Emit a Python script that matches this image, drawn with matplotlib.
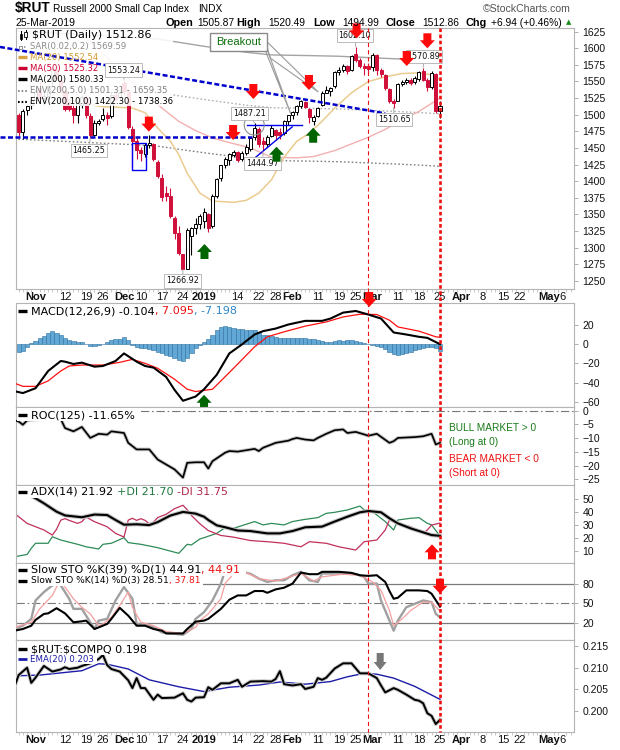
import matplotlib
matplotlib.use("Agg")
import matplotlib.pyplot as plt
from matplotlib.patches import Rectangle, Polygon, Ellipse
from matplotlib.lines import Line2D
from matplotlib.transforms import IdentityTransform

plt.rcParams['font.family'] = ['Liberation Sans', 'DejaVu Sans']
plt.rcParams['lines.scale_dashes'] = False

# ------------------------------------------------------------------ data
day_index = list(range(-4, 97))          # trading-day index, 0 = 1 Nov 2018, 96 = 25 Mar 2019
opens = [1499, 1474, 1507, 1514, 1522, 1540, 1525, 1528, 1550, 1568, 1553, 1535, 1515, 1510, 1500, 1515,
         1525, 1498, 1470, 1488, 1494, 1499, 1498, 1530, 1526, 1548, 1534, 1478, 1460, 1447, 1441, 1455,
         1456, 1429, 1405, 1382, 1378, 1345, 1322, 1290, 1268, 1317, 1330, 1336, 1340, 1350, 1333, 1378,
         1405, 1424, 1432, 1440, 1444, 1433, 1442, 1449, 1466, 1479, 1460, 1456, 1468, 1477, 1474, 1472,
         1490, 1500, 1504, 1513, 1519, 1508, 1490, 1498, 1514, 1533, 1536, 1543, 1564, 1568, 1573, 1568,
         1592, 1583, 1574, 1574, 1572, 1590, 1568, 1560, 1538, 1521, 1521, 1546, 1549, 1553, 1549, 1554,
         1566, 1552, 1541, 1562, 1505.87]
highs = [1503, 1509, 1516, 1526, 1540, 1549, 1532, 1545, 1571, 1573, 1555, 1538, 1522, 1516, 1521, 1529,
         1530, 1502, 1492, 1494, 1510, 1504, 1532, 1536, 1535, 1553.24, 1538, 1483, 1465, 1452, 1458, 1470,
         1458, 1432, 1410, 1392, 1390, 1348, 1332, 1291, 1329, 1331, 1345, 1350, 1360, 1352, 1380, 1405,
         1425, 1437, 1443, 1447, 1446, 1445, 1456, 1467, 1487.21, 1481, 1466, 1470, 1484, 1479, 1480, 1492,
         1500, 1505, 1515, 1522, 1521, 1510, 1500, 1512, 1535, 1543, 1542, 1566, 1572, 1576, 1575, 1590,
         1602.10, 1586, 1578, 1578, 1593, 1592, 1570, 1562, 1540, 1524, 1548, 1552, 1556, 1555, 1558, 1566,
         1570.89, 1555, 1566, 1563, 1520.49]
lows = [1468, 1463, 1500, 1508, 1518, 1518, 1515, 1524, 1545, 1553, 1532, 1506, 1505, 1488, 1488, 1510,
        1495, 1465.25, 1468, 1484, 1490, 1485, 1495, 1520, 1520, 1530, 1478, 1421, 1433, 1430, 1436, 1450,
        1430, 1405, 1370, 1370, 1345, 1313, 1288, 1266.92, 1267.5, 1288, 1320, 1328, 1330, 1323, 1330, 1375,
        1400, 1420, 1425, 1436, 1429, 1430, 1440, 1445, 1462, 1452, 1444.97, 1452, 1466, 1462, 1464, 1470,
        1485, 1494, 1500, 1510, 1510, 1488, 1485, 1496, 1513, 1532, 1528, 1540, 1560, 1565, 1562, 1566,
        1580, 1570, 1560, 1565, 1566, 1560, 1557, 1537, 1518, 1510.65, 1520, 1543, 1546, 1545, 1546, 1550,
        1550, 1536, 1538, 1502, 1494.99]
closes = [1474, 1506, 1513, 1522, 1536, 1525, 1528, 1542, 1569, 1556, 1537, 1509, 1508, 1500, 1518, 1527,
          1500, 1470, 1488, 1491, 1499, 1495, 1530, 1524, 1533, 1536, 1481, 1460, 1447, 1443, 1454, 1458,
          1434, 1408, 1376, 1377, 1347, 1322, 1292, 1268, 1327, 1330, 1335, 1348, 1353, 1330, 1377, 1403,
          1424, 1434, 1441, 1444, 1432, 1442, 1452, 1465, 1480, 1456, 1456, 1466, 1480, 1469, 1470, 1490,
          1499, 1504, 1513, 1520, 1512, 1496, 1497, 1510, 1532, 1537, 1540, 1565, 1568, 1574, 1566, 1588,
          1582, 1573, 1570, 1569, 1590, 1567, 1561, 1540, 1521, 1518, 1546, 1549, 1553, 1548, 1555, 1564,
          1553, 1541, 1563, 1506, 1512.86]

ma20_idx = [-4, 0, 4, 8, 12, 16, 20, 23, 26, 29, 32, 34, 36, 39, 42, 47, 50, 53, 56, 59, 62, 65, 68, 71,
            75, 79, 83, 87, 91, 94, 96]
ma20_val = [1575, 1555, 1535, 1522, 1516, 1512, 1511, 1510, 1503, 1480, 1460, 1440, 1412, 1382, 1370, 1368,
            1371, 1382, 1402, 1436, 1460, 1472, 1490, 1510, 1533, 1550, 1557, 1562, 1563, 1560, 1552.54]
ma50_idx = [-5, 4, 11, 18, 25, 30, 34, 38, 42, 46, 51, 56, 62, 66, 71, 75, 79, 83, 87, 91, 94, 96]
ma50_val = [1660, 1645, 1622, 1580, 1537, 1510, 1490, 1476, 1465, 1458, 1450, 1436, 1435, 1437, 1446, 1456,
            1466, 1478, 1492, 1505, 1517, 1525.32]
ma200_idx = [-5, 10, 22, 29, 40, 50, 56, 65, 72, 79, 86, 92, 96]
ma200_val = [1626, 1621, 1617, 1614, 1603, 1594, 1590, 1589, 1588, 1586, 1584, 1582, 1580.33]
env5_low = [1544.7, 1540.0, 1536.2, 1533.3, 1522.9, 1514.3, 1510.5, 1509.6, 1508.6, 1506.7, 1504.8, 1502.9, 1501.31]
env10_low = [1463.4, 1458.9, 1455.3, 1452.6, 1442.7, 1434.6, 1431.0, 1430.1, 1429.2, 1427.4, 1425.6, 1423.8, 1422.30]

macd_idx = [-5, -3, 0, 2, 3, 6, 7, 9, 11, 14, 16, 19, 21, 24, 26, 28, 31, 33, 35, 38, 40, 43, 46, 49, 52,
            54, 57, 60, 64, 68, 70, 73, 76, 79, 82, 85, 88, 91, 93, 96]
macd_val = [-49, -51, -46, -34, -28, -17.6, -18.3, -20.7, -19.3, -23.5, -22.8, -17.6, -9.7, -18.3, -22.8,
            -24.5, -34.2, -47.7, -59, -54.6, -47, -32, -9.7, -0.3, 10, 13.5, 16.2, 20.4, 24.2, 24.2, 26.6,
            32.8, 34.5, 30.8, 26.6, 12.1, 10, 7.6, 6.5, -0.104]
signal_idx = [-5, -3, 0, 3, 6, 8, 11, 16, 20, 23, 26, 29, 33, 36, 38, 42, 45, 48, 52, 55, 59, 64, 69, 73,
              77, 81, 84, 86, 91, 95, 96]
signal_val = [-40.7, -44, -44, -38.3, -28, -22.8, -21.8, -21.8, -19, -15.9, -20, -25.2, -36.6, -47, -49.4,
              -47, -34, -20.7, -2.8, 7.6, 12.8, 18.7, 23.1, 28.3, 31.1, 30.8, 24.9, 17.9, 13.5, 7.6, 7.095]
macd_hist = [-8.6, -7, -3, 1, 3, 6, 8.6, 11.7, 13.4, 12, 10, 6.6, 4, 3, 2.4, 1.7, 0, -1.7, -2, -1, 0.3,
             2.4, 3.8, 4.8, 5.5, 6.9, 4, -1, -2.8, -3.8, -4.5, -5.5, -6.6, -7.9, -9.7, -11.4, -12.4, -14,
             -16.6, -17.6, -14, -9.7, -4.5, -1, 1.7, 4.8, 10, 15, 18, 18.6, 18.3, 17.2, 16.2, 15.5, 15.2,
             15.2, 14.8, 12.8, 10, 9.3, 8.6, 7.6, 6.6, 5.9, 5.9, 5.9, 5.9, 5.9, 5.9, 5.5, 5, 4.2, 3.4, 2.4,
             2.7, 3.4, 4, 3.6, 4, 4, 3.4, 2.4, 1.4, -0.3, -1, -1.7, -3.4, -5.5, -7.9, -10.7, -11.4, -10.3,
             -9.3, -7.9, -6.6, -5.5, -4.5, -3.4, -3.1, -4.5, -7.198]

roc_idx = [-5, -4, -3, -2, 0, 3, 6, 7, 9, 11, 13, 15, 17, 18, 21, 22, 24, 27, 29, 31, 33, 35, 36, 38, 40,
           41, 42, 45, 46, 48, 52, 53, 54, 57, 60, 61, 62, 64, 66, 67, 69, 71, 73, 74, 76, 79, 81, 84, 85,
           86, 90, 92, 94, 95, 96]
roc_val = [-3.5, -3.9, -5.1, -3.5, -3.2, -3, -3, -6.3, -7.5, -5.9, -9.9, -8.4, -8.7, -7.5, -8.1, -11.7,
           -14.1, -14.1, -17.8, -19.6, -21.4, -24.4, -19, -18.8, -18.8, -21.1, -18.4, -15.3, -14.7, -14.9,
           -13.9, -14.7, -13.5, -11.7, -10.9, -10.3, -9.9, -10.5, -10.8, -9.9, -8.4, -7.1, -6.8, -8.1,
           -7.7, -9.1, -8.4, -11.7, -11.1, -9.9, -9.6, -9.3, -8.4, -12.3, -11.65]

adx_idx = [-2, 0, 2, 5, 7, 11, 14, 17, 19, 21, 24, 27, 29, 32, 35, 38, 40, 41, 43, 45, 48, 51, 55, 58, 61,
           64, 68, 71, 74, 77, 79, 82, 84, 86, 89, 92, 94, 96]
adx_val = [54, 50.8, 46.9, 40.5, 37.6, 36.2, 38.3, 37.9, 34.1, 30.5, 30.8, 30.2, 32.5, 37.5, 40.3, 39,
           36.6, 34.1, 30, 28.5, 26, 25.6, 23.8, 23.8, 25.6, 28.5, 29, 32.9, 36.6, 40, 41, 40, 35.4, 31.5,
           27.7, 24.6, 22.5, 21.92]
pdi_idx = [-5, -2, -1, 0, 3, 4, 6, 10, 12, 15, 16, 18, 21, 22, 25, 29, 32, 34, 36, 37, 39, 40, 43, 45, 47,
           50, 52, 54, 56, 59, 61, 64, 67, 69, 71, 74, 77, 78, 80, 83, 85, 86, 89, 91, 93, 94, 96]
pdi_val = [5.8, 7.6, 12.3, 16.2, 16.2, 21.2, 18.7, 15.4, 13.5, 11.8, 15.4, 16.2, 20.5, 16.7, 15.4, 12.8,
           10.2, 8.5, 15.4, 14.9, 19.5, 20.5, 23.8, 28.2, 27.7, 30.8, 32.9, 30.3, 31.5, 30.3, 32.9, 34.6,
           35.9, 39.2, 40, 41.8, 44.8, 41.8, 40.5, 32.9, 26.4, 34.1, 35.4, 35.9, 31.5, 30.3, 21.70]
mdi_idx = [-5, -2, 2, 4, 5, 6, 7, 8, 10, 11, 12, 14, 17, 19, 21, 22, 23, 24, 25, 26, 27, 28, 29, 31, 33,
           35, 36, 37, 39, 41, 43, 44, 47, 51, 55, 59, 63, 65, 69, 72, 76, 78, 81, 83, 84, 86, 89, 92, 93,
           94, 96]
mdi_val = [39.2, 31.5, 26.4, 22.5, 27, 34, 35.1, 33.8, 31.5, 32.8, 36.4, 32.8, 28.9, 23.8, 21, 34, 35.4,
           33.8, 35.1, 33.8, 31.2, 32.5, 36, 38.5, 42.8, 45.4, 42, 37.6, 31.2, 26, 23.4, 22.2, 20.9, 18.3,
           17.4, 16.2, 13.5, 17.4, 16.2, 13.5, 11, 17.4, 18.7, 26.4, 34.1, 31.5, 29, 23.8, 26.4, 30.2, 31.75]

sto39_idx = [-5, -3, -1, 0, 2, 3, 5, 7, 9, 11, 12, 14, 15, 17, 18, 20, 22, 24, 26, 28, 30, 31, 35, 36, 38,
             40, 41, 44, 46, 48, 50, 52, 54, 55, 57, 59, 61, 63, 65, 67, 68, 72, 75, 77, 79, 81, 83, 84, 85,
             86, 88, 91, 93, 94, 96]
sto39_val = [8.2, 10.8, 15.8, 24.6, 33.8, 34.6, 42.5, 34.6, 21, 22.5, 23.6, 10.8, 13.3, 18.5, 26.2, 43,
             31.2, 15.8, 15.8, 10.8, 8.2, 4, 4, 10.8, 22, 23.6, 26.2, 41.5, 55.4, 62, 62, 68.7, 68.7, 66,
             71.2, 73.8, 80, 96.9, 94.4, 94.4, 98, 98, 96.4, 92.8, 91.8, 92.8, 82.6, 68.7, 56.9, 58.5, 69.7,
             69.7, 68.7, 64.6, 44.91]
sto14k_idx = [-5, -3, -1, 0, 2, 4, 5, 6, 8, 9, 11, 12, 14, 15, 17, 19, 21, 23, 24, 26, 28, 30, 35, 37, 38,
              40, 42, 44, 45, 48, 51, 53, 55, 57, 59, 61, 63, 65, 67, 68, 72, 76, 78, 79, 81, 82, 84, 85,
              86, 88, 90, 92, 94, 95, 96]
sto14k_val = [10.8, 15.8, 26.2, 54.3, 67.1, 77.3, 95, 77.3, 56.9, 41.5, 41.5, 31.2, 10.8, 23.6, 26.2, 54.3,
              74.8, 56.9, 18.5, 18.5, 13.3, 5.6, 2, 10.8, 26.2, 36.5, 54.3, 80, 100, 100, 95, 87.7, 82.6,
              85.1, 85.1, 92.8, 98, 85.1, 82.6, 95.4, 95.4, 94.4, 90.3, 80, 80, 54.3, 23.6, 8.2, 23.6, 44,
              49.2, 54.3, 51.8, 33.8, 28.51]
sto14d_idx = [-5, -1, 1, 4, 5, 6, 7, 9, 11, 13, 15, 16, 18, 20, 22, 23, 25, 28, 31, 35, 38, 39, 41, 44, 45,
              47, 50, 53, 57, 63, 66, 68, 73, 77, 80, 82, 84, 85, 87, 89, 92, 94, 96]
sto14d_val = [13.3, 21, 41.5, 62, 74.8, 85, 74.8, 56.9, 44, 33.8, 15.8, 18.5, 28.7, 46.7, 67.1, 44, 21,
              15.8, 7, 4, 13.3, 23.6, 33.8, 56.9, 80, 95, 97, 87.7, 84, 95.4, 84, 90.3, 94.4, 92.8, 82.6,
              69.7, 38.9, 15.8, 26.2, 38.9, 51.8, 51.8, 37.81]

ratio_idx = [-5, -4, -2, -1, 0, 2, 4, 6, 7, 8, 10, 11, 13, 15, 16, 17, 18, 20, 22, 23, 24, 25, 26, 28, 29,
             30, 33, 35, 36, 37, 38, 40, 41, 42, 44, 46, 48, 49, 51, 54, 56, 57, 58, 59, 61, 63, 64, 66, 67,
             68, 69, 71, 73, 75, 77, 79, 81, 82, 83, 85, 86, 88, 90, 91, 92, 93, 94, 95, 96]
ratio_val = [0.2056, 0.2083, 0.2100, 0.2065, 0.2077, 0.2104, 0.2091, 0.2096, 0.2101, 0.2097, 0.2100,
             0.2104, 0.2110, 0.2120, 0.2129, 0.2106, 0.2097, 0.2091, 0.2071, 0.2053, 0.2076, 0.2053, 0.2053,
             0.2026, 0.2038, 0.2030, 0.2031, 0.2041, 0.2026, 0.2022, 0.2031, 0.2032, 0.2055, 0.2049, 0.2064,
             0.2064, 0.2072, 0.2056, 0.2068, 0.2069, 0.2068, 0.2074, 0.2092, 0.2062, 0.2059, 0.2062, 0.2051,
             0.2056, 0.2076, 0.2072, 0.2077, 0.2098, 0.2110, 0.2110, 0.2087, 0.2087, 0.2076, 0.2059, 0.2043,
             0.2053, 0.2049, 0.2038, 0.2026, 0.2024, 0.2018, 0.1995, 0.1989, 0.1970, 0.1980]
ema_idx = [-5, 1, 7, 11, 15, 17, 22, 27, 34, 40, 46, 53, 58, 64, 70, 74, 78, 81, 85, 90, 96]
ema_val = [0.2081, 0.2083, 0.2089, 0.2093, 0.2109, 0.2108, 0.2097, 0.2072, 0.2056, 0.2045, 0.2055, 0.2060,
           0.2067, 0.2062, 0.2068, 0.2079, 0.2087, 0.2085, 0.2076, 0.2057, 0.2027]

tick_pos = [0, 7, 12, 16, 21, 25, 30, 35, 40, 48, 53, 57, 61, 67, 72, 76, 80, 86, 91, 96, 101, 106, 111,
            115, 122, 125]
tick_lab = ['Nov', '12', '19', '26', 'Dec', '10', '17', '24', '2019', '14', '22', '28', 'Feb', '11', '19',
            '25', 'Mar', '11', '18', '25', 'Apr', '8', '15', '22', 'May', '6']
month_labels = {'Nov', 'Dec', '2019', 'Feb', 'Mar', 'Apr', 'May'}

# signal markers (trading-day index, value)
red_down_main = [(26.9, 1474.5), (46.9, 1461.9), (51.7, 1523.6), (64.9, 1537.2), (76.2, 1615.0),
                 (88.1, 1573.3), (93.0, 1600.0)]
green_up_main = [(40.1, 1305.3), (57.2, 1451.8), (65.9, 1480.4)]
value_labels = [("1553.24", 21, 1553.24, 20.8, 1567.3), ("1465.25", 13, 1465.25, 12.7, 1446.4),
                ("1266.92", 35, 1266.92, 34.9, 1249.6), ("1487.21", 52, 1487.21, 50.7, 1502.1),
                ("1444.97", 54, 1444.97, 53.9, 1426.8), ("1602.10", 76, 1602.10, 75.8, 1619.0),
                ("1570.89", 92, 1570.89, 92.2, 1587.3), ("1510.65", 85, 1510.65, 85.1, 1492.8)]

# ------------------------------------------------------------------ figure
W, H = 620, 750
fig = plt.figure(figsize=(W / 100, H / 100), dpi=100)
fig.patch.set_facecolor('white')
renderer = fig.canvas.get_renderer()
XMIN, XMAX = -4.63, 127.8
LPX, RPX = 16, 574
DJ = 'DejaVu Sans'


def panel(top, bottom, ylim, yticks, fmt=None):
    a = fig.add_axes([LPX / W, 1 - bottom / H, (RPX - LPX) / W, (bottom - top) / H])
    a.set_xlim(XMIN, XMAX)
    a.set_ylim(*ylim)
    a.set_autoscale_on(False)
    for sp in a.spines.values():
        sp.set_color('#b4b4b4')
        sp.set_linewidth(0.8)
    a.yaxis.tick_right()
    a.set_yticks(yticks)
    if fmt:
        a.set_yticklabels([fmt.format(v) for v in yticks])
    a.tick_params(axis='y', which='major', direction='out', length=3, width=0.6, color='#a0a0a0',
                  pad=3, labelsize=7.5, labelcolor='#111111')
    a.tick_params(axis='x', which='both', bottom=False, labelbottom=False)
    return a


def xlabels(a):
    a.set_xticks(tick_pos)
    a.set_xticklabels(tick_lab)
    a.set_xticks(list(range(-4, 128)), minor=True)
    a.tick_params(axis='x', which='major', bottom=True, labelbottom=True, length=0, pad=2.5,
                  labelsize=8, labelcolor='#111111')
    a.tick_params(axis='x', which='minor', bottom=True, length=2, width=0.6, color='#c0c0c0')
    for lab in a.get_xticklabels():
        if lab.get_text() in month_labels:
            lab.set_fontweight('bold')


def T(target, x, y, s, size, color='black', weight='normal', family=None, ha='left', zorder=30, **kw):
    kws = dict(fontsize=size, color=color, fontweight=weight, ha=ha, va='center', zorder=zorder,
               transform=IdentityTransform())
    if family is not None:
        kws['family'] = family
    kws.update(kw)
    return target.text(x, H - y, s, **kws)


def seq(target, x, y, parts, size, family=DJ, zorder=30):
    cur = x
    for s, c, gap in parts:
        cur += gap
        t = T(target, cur, y, s, size, c, family=family, zorder=zorder)
        cur += t.get_window_extent(renderer=renderer).width
    return cur


def bg(a, x0, y0, x1, y1, alpha=1.0, z=25):
    a.add_patch(Rectangle((x0, H - y1), x1 - x0, y1 - y0, transform=IdentityTransform(), fc='white',
                          ec='none', alpha=alpha, zorder=z, clip_on=False))


def icon(a, y, color, lw=2.4, ls='-', x0=18, x1=27, z=31):
    a.add_line(Line2D([x0, x1], [H - y, H - y], transform=IdentityTransform(), color=color, lw=lw,
                      ls=ls, zorder=z, clip_on=False, solid_capstyle='butt'))


def block_arrow(a, xd, yd, color, up=False, w=15.0, h=15.0, shaft=8.0, head=8.0, z=11):
    px, py = a.transData.transform((xd, yd))
    s = -1 if up else 1
    hw, sw = w / 2, shaft / 2
    pts = [(0, 0), (-hw, s * head), (-sw, s * head), (-sw, s * h), (sw, s * h), (sw, s * head), (hw, s * head)]
    a.add_patch(Polygon([(px + u, py + v) for u, v in pts], closed=True, transform=IdentityTransform(),
                        fc=color, ec='none', zorder=z, clip_on=False))


RED = '#d0103a'
ARROW_RED = '#ff0a0a'
GREEN = '#006400'

# ------------------------------------------------------------------ main price panel
ax = panel(28.3, 288.7, (1238.0, 1630.1), list(range(1250, 1626, 25)))
xlabels(ax)

ax.plot(ma200_idx, ma200_val, color='#a4a4a4', lw=1.0, zorder=2)
ax.plot(ma200_idx, env5_low, color='#b0b0b0', lw=1.0, ls=(0, (1.2, 1.6)), zorder=2)
ax.plot(ma200_idx, env10_low, color='#808080', lw=1.0, ls=(0, (1.2, 1.6)), zorder=2)
ax.plot(ma50_idx, ma50_val, color='#f3b0b0', lw=1.0, zorder=2)
ax.plot(ma20_idx, ma20_val, color='#ebcb8f', lw=1.1, zorder=2)

for i, o, hh, ll, c in zip(day_index, opens, highs, lows, closes):
    up = c >= o
    col = 'black' if up else RED
    ax.plot([i, i], [ll, hh], color=col, lw=0.8, zorder=3, solid_capstyle='butt')
    ax.add_patch(Rectangle((i - 0.36, min(o, c)), 0.72, max(abs(c - o), 0.8),
                           fc='white' if up else RED, ec=col, lw=0.7, zorder=4))

# trend lines / highlights
ax.plot([-8.43, 83.0], [1602.0, 1502.0], color='#0000cc', lw=1.8, ls=(0, (3.6, 1.8)), zorder=8.6, clip_on=False)
ax.plot([-8.43, 51.4], [1466.0, 1466.0], color='#0000cc', lw=1.8, ls=(0, (3.6, 1.8)), zorder=5, clip_on=False)
ax.plot([50.2, 63.3], [1484.5, 1484.5], color='#0000ee', lw=1.0, zorder=5)
ax.plot([50.9, 60.9], [1428.8, 1481.5], color='#0000ee', lw=1.0, zorder=5)
ax.add_patch(Rectangle((22.9, 1416.7), 3.3, 40.3, fc='none', ec='#0000ee', lw=1.0, zorder=5))
ax.add_patch(Ellipse((51.9, 1484.5), 20 / 4.213, 20 / 0.664, fc='none', ec='#909090', lw=0.8, zorder=6))

# breakout callout
ax.add_patch(Polygon([(54.0, 1605), (60.6, 1501), (55.2, 1594.4)], closed=True, fc='none', ec='#9a9a9a',
                     lw=0.8, zorder=8.7))
ax.add_patch(Polygon([(54.5, 1612.5), (67.1, 1534.2), (55.7, 1585.4)], closed=True, fc='none', ec='#9a9a9a',
                     lw=0.8, zorder=8.7))
ax.add_patch(Rectangle((41.4, 1596.0), 13.5, 27.0, fc='white', ec='#8a8a8a', lw=1.0, zorder=8.8))
ax.text(48.15, 1609.5, 'Breakout', color='#0a6e0a', fontsize=8, ha='center', va='center', zorder=9)

for s, xi, yv, lx, ly in value_labels:
    ax.annotate(s, xy=(xi, yv), xytext=(lx, ly), textcoords='data', fontsize=5.8, family=DJ,
                ha='center', va='center', zorder=10, color='#111111',
                bbox=dict(boxstyle='square,pad=0.25', fc='white', ec='#b0b0b0', lw=0.6),
                arrowprops=dict(arrowstyle='-', color='#a0a0a0', lw=0.6, shrinkA=0, shrinkB=0))

for xd, yd in red_down_main:
    block_arrow(ax, xd, yd, ARROW_RED)
for xd, yd in green_up_main:
    block_arrow(ax, xd, yd, GREEN, up=True)

# main legend
bg(ax, 16.5, 28.8, 173, 106, alpha=0.88, z=8)
ax.add_line(Line2D([21, 21], [H - 31, H - 40], transform=IdentityTransform(), color='black', lw=0.7, zorder=9))
ax.add_patch(Rectangle((19.8, H - 39), 2.4, 5, transform=IdentityTransform(), fc='black', ec='black', lw=0.5, zorder=9))
ax.add_line(Line2D([25.5, 25.5], [H - 30, H - 39], transform=IdentityTransform(), color='black', lw=0.7, zorder=9))
ax.add_patch(Rectangle((24.3, H - 37), 2.4, 5, transform=IdentityTransform(), fc='white', ec='black', lw=0.6, zorder=9.5))
T(ax, 32, 35, '\\$RUT (Daily) 1512.86', 8, 'black', family=DJ, zorder=9)
ax.add_patch(Rectangle((19, H - 48.5), 3, 3, transform=IdentityTransform(), fc='white', ec='#909090', lw=0.7, zorder=9))
ax.add_line(Line2D([24, 27], [H - 46.7, H - 46.7], transform=IdentityTransform(), color='#909090', lw=1.2,
                   ls=(0, (1, 1.2)), zorder=9))
T(ax, 30, 46.7, 'SAR(0.02,0.2) 1569.59', 6.1, '#8a8a8a', family=DJ, zorder=9)
icon(ax, 57.3, '#d9a441', z=9)
T(ax, 30, 57.3, 'MA(20) 1552.54', 6.1, '#d39a32', family=DJ, zorder=9)
icon(ax, 68.3, '#cc0033', z=9)
T(ax, 30, 68.3, 'MA(50) 1525.32', 6.1, '#cc0033', family=DJ, zorder=9)
icon(ax, 79.3, 'black', z=9)
T(ax, 30, 79.3, 'MA(200) 1580.33', 6.1, 'black', family=DJ, zorder=9)
icon(ax, 90.7, '#909090', lw=1.5, ls=(0, (1.2, 1.4)), z=9)
T(ax, 30, 90.7, 'ENV(200,5.0) 1501.31 - 1659.35', 6.1, '#808080', family=DJ, zorder=9)
icon(ax, 101.7, 'black', lw=1.5, ls=(0, (1.2, 1.4)), z=9)
T(ax, 30, 101.7, 'ENV(200,10.0) 1422.30 - 1738.36', 6.1, 'black', family=DJ, zorder=9)

# ------------------------------------------------------------------ MACD
axm = panel(303.3, 406.7, (-65.2, 42.5), [20, 0, -20, -40, -60])
axm.bar(day_index, macd_hist, width=1.0, color='#62a8d6', edgecolor='#2f6f9f', linewidth=0.4, zorder=2)
axm.plot(signal_idx, signal_val, color='#ff1010', lw=0.9, zorder=3)
axm.plot(macd_idx, macd_val, color='black', lw=1.5, zorder=4)
block_arrow(axm, 79.2, 38.7, ARROW_RED)
block_arrow(axm, 40.0, -52.8, GREEN, up=True)
bg(axm, 17, 305, 242, 317)
icon(axm, 311, 'black')
seq(axm, 31, 311, [('MACD(12,26,9) -0.104', 'black', 0), (', 7.095', '#ee1111', 0),
                   (', -7.198', '#2f86c4', 0)], 8)

# ------------------------------------------------------------------ ROC
axr = panel(406.7, 485.0, (-27.1, 1.5), [0, -5, -10, -15, -20, -25])
axr.axhline(0, color='#777777', lw=0.8, ls=(0, (6, 2, 1.2, 2)), zorder=1)
axr.plot(roc_idx, roc_val, color='#c4c4c4', lw=2.6, zorder=2)
axr.plot(roc_idx, roc_val, color='black', lw=1.2, zorder=3)
bg(axr, 17, 408, 141, 421)
icon(axr, 415, 'black')
T(axr, 31, 415, 'ROC(125) -11.65%', 8, 'black', family=DJ)
T(axr, 449, 427.7, 'BULL MARKET > 0', 7.3, '#1a7a1a')
T(axr, 449, 441.7, '(Long at 0)', 7.3, '#1a7a1a')
T(axr, 449, 459.3, 'BEAR MARKET < 0', 7.3, '#ee1111')
T(axr, 449, 472.7, '(Short at 0)', 7.3, '#ee1111')

# ------------------------------------------------------------------ ADX
axa = panel(485.0, 563.3, (0.8, 61.0), [10, 20, 30, 40, 50])
axa.plot(pdi_idx, pdi_val, color='#2e8b57', lw=0.9, zorder=2)
axa.plot(mdi_idx, mdi_val, color='#c0305a', lw=0.9, zorder=2)
axa.plot(adx_idx, adx_val, color='#c4c4c4', lw=3.0, zorder=3)
axa.plot(adx_idx, adx_val, color='black', lw=1.5, zorder=4)
block_arrow(axa, 94.1, 15.4, ARROW_RED, up=True)
bg(axa, 17, 486, 234, 498)
icon(axa, 492, 'black')
seq(axa, 31, 492, [('ADX(14) 21.92', 'black', 0), ('+DI 21.70', '#1f7a3f', 3.5), ('-DI 31.75', '#b0284a', 3.5)], 8)

# ------------------------------------------------------------------ Slow STO
axs = panel(563.3, 640.0, (-6.0, 111.0), [20, 50, 80])
axs.axhline(80, color='#7a7a7a', lw=0.9, zorder=1)
axs.axhline(20, color='#7a7a7a', lw=0.9, zorder=1)
axs.axhline(50, color='#7a7a7a', lw=0.8, ls=(0, (6, 2, 1.2, 2)), zorder=1)
axs.plot(sto14k_idx, sto14k_val, color='#a0a0a0', lw=1.7, zorder=2)
axs.plot(sto14d_idx, sto14d_val, color='#f4a0a0', lw=0.9, zorder=3)
axs.plot(sto39_idx, sto39_val, color='black', lw=1.5, zorder=4)
block_arrow(axs, 96.0, 64.6, ARROW_RED)
bg(axs, 17, 564, 246, 576)
bg(axs, 17, 576, 203, 586)
icon(axs, 570, 'black')
seq(axs, 31, 570, [('Slow STO %K(39) %D(1) 44.91', 'black', 0), (', 44.91', '#ee1111', 0)], 8)
icon(axs, 580.7, 'black')
seq(axs, 31, 580.7, [('Slow STO %K(14) %D(3) 28.51', 'black', 0), (', 37.81', '#ee1111', 0)], 6.5)

# ------------------------------------------------------------------ RUT:COMPQ ratio
axc = panel(640.0, 731.7, (0.19525, 0.21638), [0.200, 0.205, 0.210, 0.215], fmt='{:.3f}')
xlabels(axc)
axc.plot(ema_idx, ema_val, color='#1c1ca8', lw=1.0, zorder=2)
axc.plot(ratio_idx, ratio_val, color='#c8c8c8', lw=2.8, zorder=3)
axc.plot(ratio_idx, ratio_val, color='black', lw=1.4, zorder=4)
block_arrow(axc, 81.8, 0.20947, '#777777', w=13, h=17, shaft=7, head=8)
bg(axc, 17, 642, 152, 655)
bg(axc, 17, 655, 97, 664)
icon(axc, 649, 'black')
T(axc, 31, 649, '\\$RUT:\\$COMPQ 0.198', 8, 'black', family=DJ)
icon(axc, 659.3, '#1c1ca8', lw=2.0)
T(axc, 30, 659.3, 'EMA(20) 0.203', 6.2, '#1c1ca8', family=DJ)

# ------------------------------------------------------------------ vertical marker lines
for idx, lw, dash in [(79, 0.8, (3.0, 2.2)), (96, 1.9, (2.6, 1.8))]:
    xpx = ax.transData.transform((idx, 1400))[0]
    fig.add_artist(Line2D([xpx, xpx], [H - 28.3, H - 731.7], transform=IdentityTransform(),
                          color='#ee1111', lw=lw, ls=(0, dash), zorder=2.5))

# ------------------------------------------------------------------ header
T(fig, 15, 8, '\\$RUT', 9.8, 'black', weight='bold')
T(fig, 53, 8.5, 'Russell 2000 Small Cap Index', 7.3, 'black')
T(fig, 198, 8.5, 'INDX', 7.3, 'black')
T(fig, 15, 22.5, '25-Mar-2019', 7.5, 'black')
for x, s, b in [(165, 'Open', True), (197, '1505.87', False), (236, 'High', True), (268, '1520.49', False),
                (313, 'Low', True), (342, '1494.99', False), (386, 'Close', True), (422, '1512.86', False),
                (466, 'Chg', True), (491, '+6.94 (+0.46%)', False)]:
    T(fig, x, 22.5, s, 7.8 if b else 7.4, 'black', weight='bold' if b else 'normal', zorder=3)
T(fig, 566, 22.5, '\u25b2', 5.0, '#1a8a1a', family=DJ, zorder=3)
T(fig, 483, 9, '\u00a9StockCharts.com', 7.6, '#555555')

fig.savefig('out.png', dpi=100, facecolor='white')
